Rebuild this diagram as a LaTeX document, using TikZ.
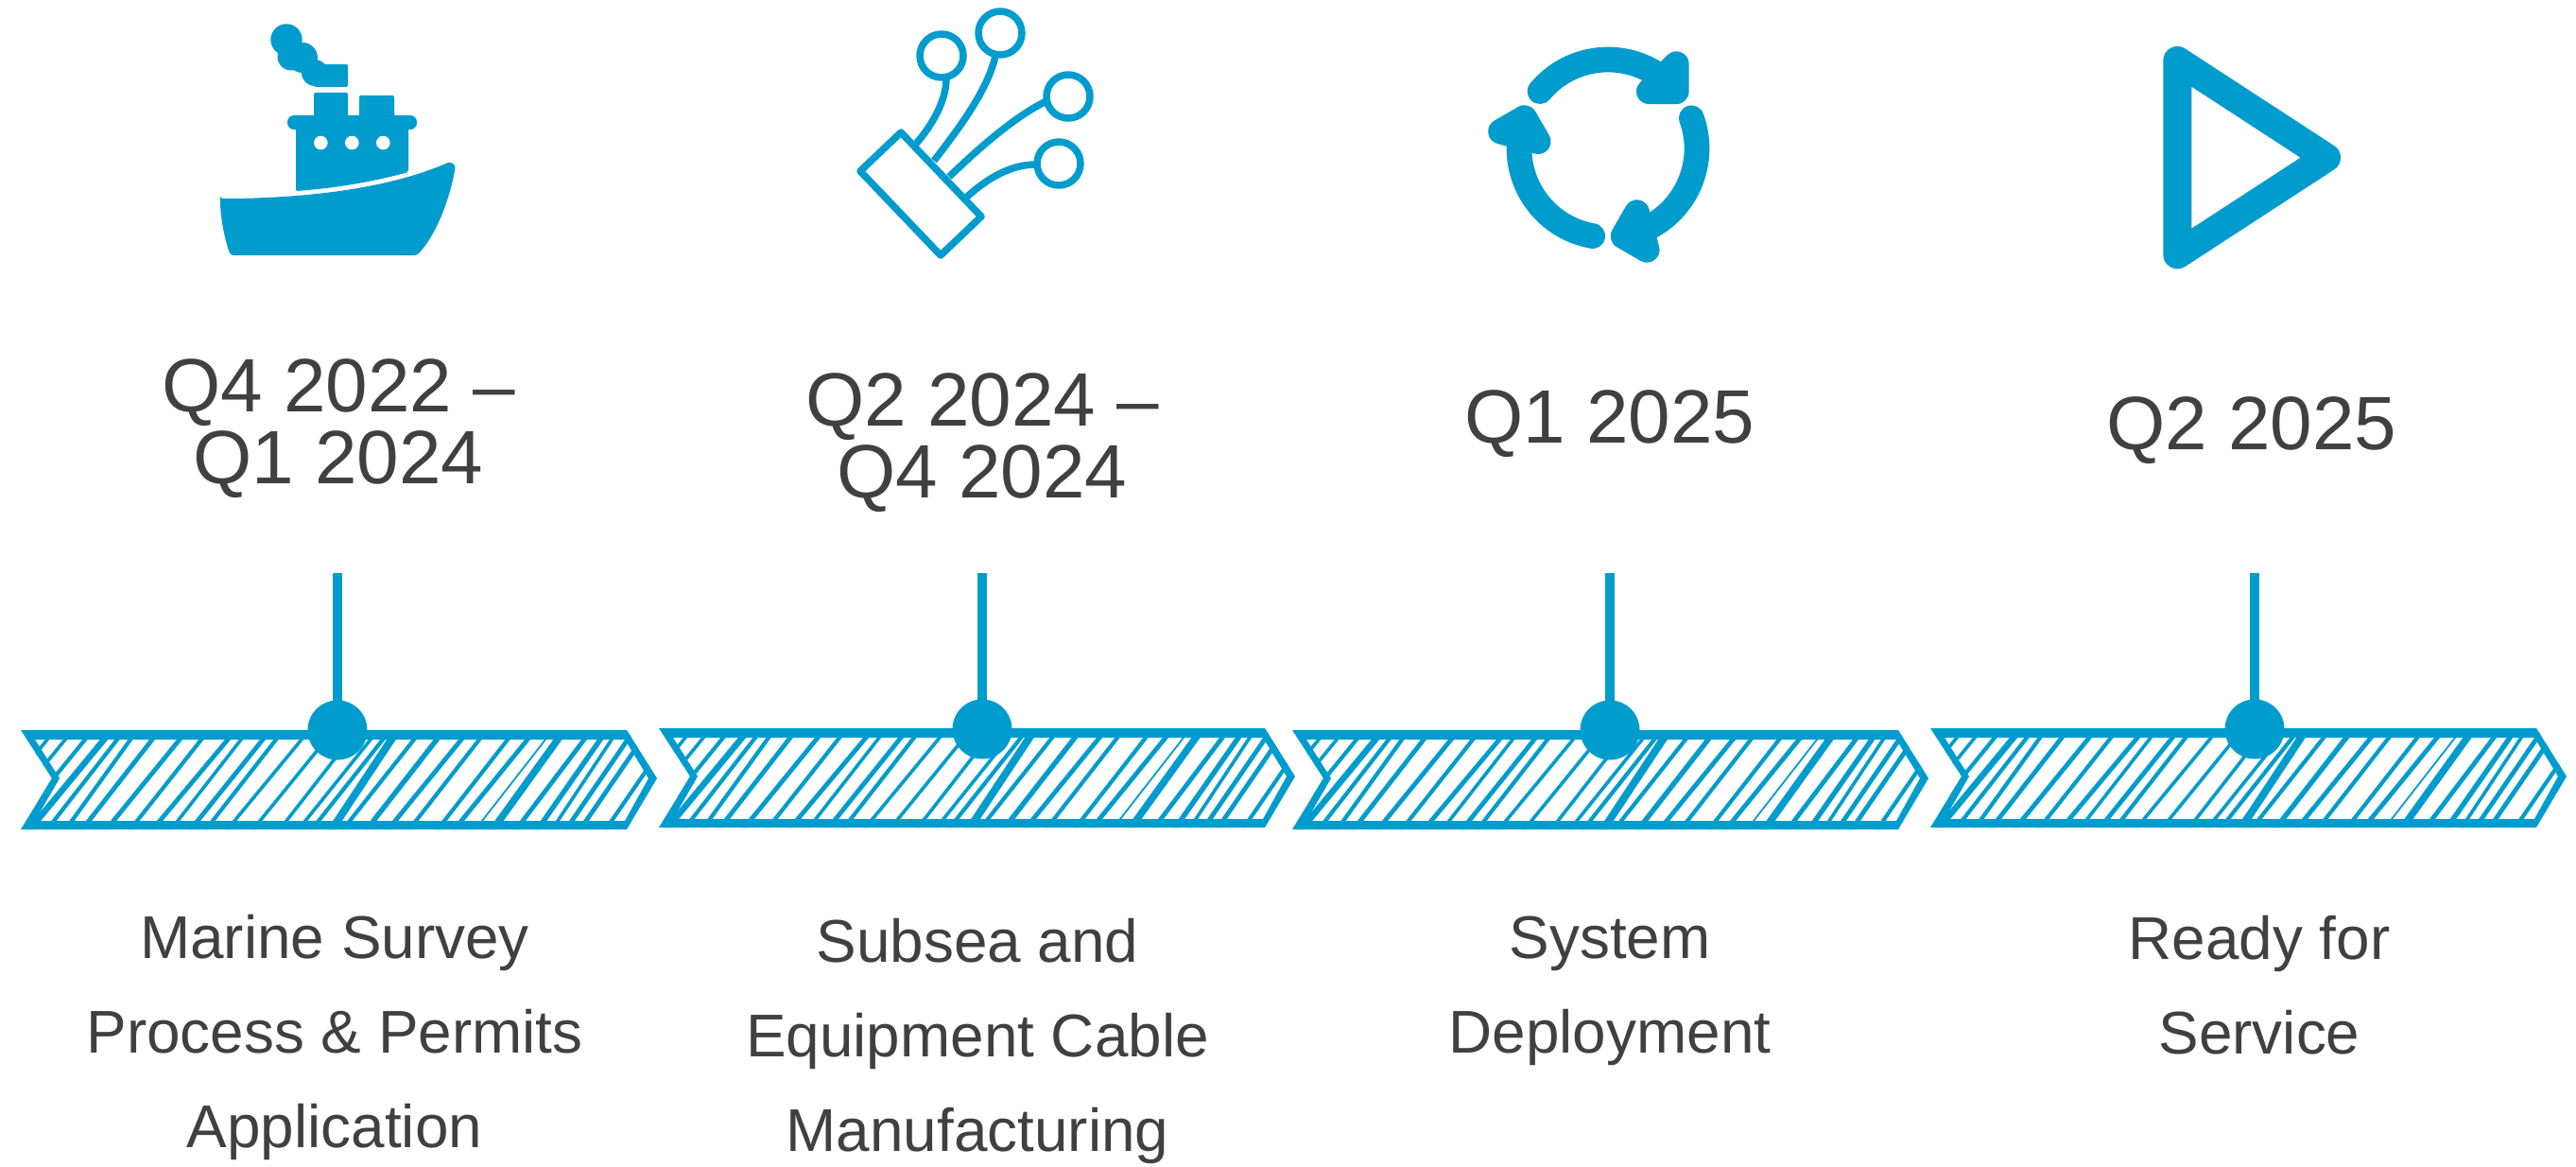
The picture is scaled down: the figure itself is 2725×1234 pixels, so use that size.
\documentclass[tikz,border=0pt]{standalone}
\usepackage{fontspec}
\setmainfont{Liberation Sans}
\definecolor{brand}{HTML}{009CCE}
\definecolor{ink}{HTML}{404040}
\tikzset{
  x=0.01cm,y=-0.01cm,
  chevline/.style={fill=brand,draw=none,even odd rule},
  hatchline/.style={draw=brand,line cap=butt},
  dotnode/.style={circle,fill=brand,draw=none,minimum size=0.63cm,inner sep=0pt},
  stem/.style={draw=brand,line width=0.095cm},
  head/.style={text=ink,inner sep=0pt,align=center,font=\fontsize{22.76}{21.8}\selectfont},
  lab/.style={text=ink,inner sep=0pt,align=center,font=\fontsize{18.15}{28.45}\selectfont},
  solidicon/.style={fill=brand,draw=none},
  fibre/.style={draw=brand,line width=0.075cm,line join=round,line cap=round},
}
\begin{document}
\begin{tikzpicture}
\useasboundingbox (0,0) rectangle (2725,1234);
% chevrons with hatching
\foreach \dx/\dy in {0/0,675/-2,1345/0,2020/-2}{
  \begin{scope}[shift={(\dx,\dy)}]
    \begin{scope}
      \clip (22,772) -- (663,772) -- (695,823) -- (663,877) -- (22,877) -- (55,823) -- cycle;
      \foreach \b/\t/\w in {-20/50/0.036,-1/69/0.036,20/90/0.042,39/110/0.065,57/124/0.042,76/138/0.042,94/161/0.048,
        120/190/0.048,145/213/0.042,169/241/0.048,188/255/0.036,209/278/0.048,225/292/0.042,248/319/0.036,275/345/0.036,
        303/370/0.036,323/392/0.036,337/405/0.042,357/414/0.08,370/438/0.042,395/462/0.054,418/488/0.048,440/507/0.042,
        470/537/0.042,488/558/0.048,510/577/0.018,528/590/0.075,553/618/0.048,575/635/0.054,590/647/0.036,605/664/0.048,
        620/679/0.048,647/706/0.042}{
        \pgfmathsetmacro{\bx}{\b-0.2*(\t-\b)}
        \pgfmathsetmacro{\tx}{\t+0.2*(\t-\b)}
        \draw[hatchline,line width=\w cm] (\bx,885.2) -- (\tx,764.8);
      }
    \end{scope}
    \fill[chevline] (22,772) -- (663,772) -- (695,823) -- (663,877) -- (22,877) -- (55,823) -- cycle
      (37,782) -- (661,782) -- (686,823) -- (661,868) -- (37,868) -- (63,823) -- cycle;
  \end{scope}
}
% stems and dots
\node[dotnode] (d1) at (357,772) {};
\node[dotnode] (d2) at (1039,771) {};
\node[dotnode] (d3) at (1703,772) {};
\node[dotnode] (d4) at (2385,771) {};
\coordinate (s1) at (357,606);
\coordinate (s2) at (1039,606);
\coordinate (s3) at (1703,606);
\coordinate (s4) at (2385,606);
\draw[stem] (s1) -- (d1.center);
\draw[stem] (s2) -- (d2.center);
\draw[stem] (s3) -- (d3.center);
\draw[stem] (s4) -- (d4.center);
% headings
\node[head] (h1) at (358,453) {Q4 2022 –\\Q1 2024};
\node[head] (h2) at (1039,468) {Q2 2024 –\\Q4 2024};
\node[head] (h3) at (1703,448) {Q1 2025};
\node[head] (h4) at (2382,455) {Q2 2025};
% labels
\node[lab] (l1) at (354,1097) {Marine Survey\\Process \& Permits\\Application};
\node[lab] (l2) at (1034,1101) {Subsea and\\Equipment Cable\\Manufacturing};
\node[lab] (l3) at (1703,1048) {System\\Deployment};
\node[lab] (l4) at (2390,1042) {Ready for\\Service};
% ship
\fill[solidicon,rounded corners=0.03cm] (233,210) .. controls (320,210) and (410,200) .. (476,171) -- (482,175)
  .. controls (475,215) and (460,250) .. (441,270) -- (244,270) .. controls (238,255) and (233,230) .. cycle;
\fill[solidicon,rounded corners=0.02cm] (313,202) -- (313,130) -- (432,130) -- (432,182) .. controls (395,192) and (355,199) .. cycle;
\fill[solidicon,rounded corners=0.07cm] (304,122) rectangle (441,137);
\fill[solidicon,rounded corners=0.015cm] (332,98) rectangle (368,125);
\fill[solidicon,rounded corners=0.015cm] (380,101) rectangle (417,125);
\fill[solidicon,rounded corners=0.015cm] (332,68) rectangle (368,92);
\fill[solidicon] (303,42) circle[radius=16.7];
\fill[solidicon] (308,60) circle[radius=14.5];
\fill[solidicon] (320,61) circle[radius=16];
\fill[solidicon] (333,77) circle[radius=14];
\fill[white] (339.3,151) circle[radius=7.3];
\fill[white] (372.3,151) circle[radius=7.3];
\fill[white] (405.3,151) circle[radius=7.3];
% fibre
\draw[fibre] (953,140) -- (1038,229) -- (995,270) -- (910,181) -- cycle;
\draw[fibre] (996,59) circle[radius=23];
\draw[fibre] (1058,35) circle[radius=23];
\draw[fibre] (1130,102) circle[radius=23];
\draw[fibre] (1120,173) circle[radius=23];
\draw[fibre,line cap=butt] (1001,83) .. controls (1001,105) and (988,130) .. (969,152);
\draw[fibre,line cap=butt] (1053,59) .. controls (1045,95) and (1015,135) .. (988,170);
\draw[fibre,line cap=butt] (1107,107) .. controls (1075,122) and (1035,157) .. (1004,187);
\draw[fibre,line cap=butt] (1095,174) .. controls (1070,174) and (1045,188) .. (1023,208);
% cycle
\foreach \r in {0,-120,-240}{
  \begin{scope}[rotate around={\r:(1701,157)}]
    \draw[draw=brand,line width=0.267cm,line cap=round] (1629,96.6) arc[start angle=-140,end angle=-52,radius=94];
    \fill[brand] (1773.3,67.7) -- (1773.3,96.7) -- (1744.3,96.7) -- cycle;
    \draw[draw=brand,line width=0.267cm,line join=round] (1773.3,67.7) -- (1773.3,96.7) -- (1744.3,96.7) -- cycle;
  \end{scope}
}
% play
\draw[draw=brand,line width=0.30cm,line join=round] (2303.3,64) -- (2461,166.7) -- (2303.3,269.3) -- cycle;
\end{tikzpicture}
\end{document}
